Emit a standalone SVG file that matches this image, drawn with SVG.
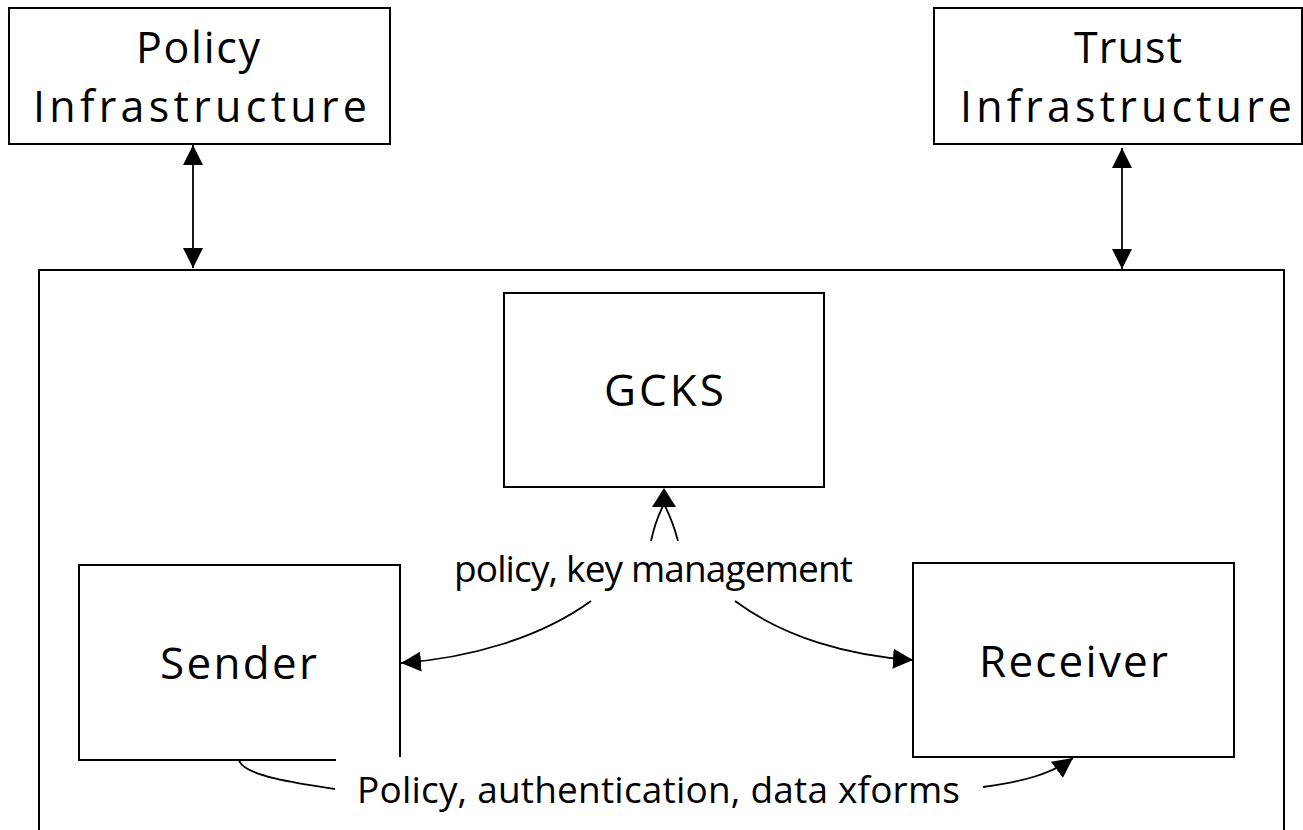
<svg xmlns="http://www.w3.org/2000/svg" width="1303" height="830" viewBox="0 0 1303 830">
<style>
.box{fill:none;stroke:#000;stroke-width:2}
.con{fill:none;stroke:#000;stroke-width:1.8}
.t{font-family:"Open Sans","Liberation Sans",Arial,sans-serif;fill:#000}
.big{font-size:43px}
.mid{font-size:44px}
.sm{font-size:37px}
</style>
<defs>
<marker id="arr" viewBox="0 0 20 20" refX="20" refY="10" markerWidth="20" markerHeight="20" markerUnits="userSpaceOnUse" orient="auto-start-reverse">
<path d="M0,0 L20,10 L0,20 z" fill="#000"/>
</marker>
</defs>
<rect width="1303" height="830" fill="#fff"/>
<g id="group-boundary">
<path class="box" d="M39,830 V270 H1284 V830"/>
</g>
<g id="policy-infrastructure">
<rect class="box" x="9" y="8" width="381" height="136"/>
<text class="t big" x="136" y="63" textLength="124" lengthAdjust="spacing">Policy</text>
<text class="t big" x="33" y="122" textLength="334" lengthAdjust="spacing">Infrastructure</text>
</g>
<g id="trust-infrastructure">
<rect class="box" x="934" y="8" width="368" height="136"/>
<text class="t big" x="1074" y="63" textLength="108" lengthAdjust="spacing">Trust</text>
<text class="t big" x="960" y="122" textLength="332" lengthAdjust="spacing">Infrastructure</text>
</g>
<g id="gcks">
<rect class="box" x="504" y="293" width="320" height="194"/>
<text class="t mid" x="604" y="406" textLength="120" lengthAdjust="spacing">GCKS</text>
</g>
<g id="sender">
<path class="box" d="M336,760 H79 V565 H400 V757"/>
<text class="t mid" x="160" y="679" textLength="157" lengthAdjust="spacing">Sender</text>
</g>
<g id="receiver">
<rect class="box" x="913" y="563" width="321" height="194"/>
<text class="t mid" x="979" y="677" textLength="189" lengthAdjust="spacing">Receiver</text>
</g>
<g id="connectors">
<line class="con" x1="193" y1="145" x2="193" y2="268" marker-start="url(#arr)" marker-end="url(#arr)"/>
<line class="con" x1="1122" y1="148" x2="1122" y2="269" marker-start="url(#arr)" marker-end="url(#arr)"/>
<path class="con" d="M651,541 Q655,522 663,506"/>
<path class="con" d="M678,541 Q673,522 665,506"/>
<path d="M664,488 L652,507 L676,507 z" fill="#000"/>
<path class="con" d="M591,601 C540,638 470,658 401,663" marker-end="url(#arr)"/>
<path class="con" d="M735,601 C785,638 850,656 913,660" marker-end="url(#arr)"/>
<path class="con" d="M239,760 C243,776 300,784 335,789"/>
<path class="con" d="M983,787 C1020,782 1050,775 1073,758" marker-end="url(#arr)"/>
</g>
<g id="labels">
<text class="t sm" x="454" y="582" textLength="399" lengthAdjust="spacing">policy, key management</text>
<text class="t sm" x="357" y="803" textLength="603" lengthAdjust="spacing">Policy, authentication, data xforms</text>
</g>
</svg>
